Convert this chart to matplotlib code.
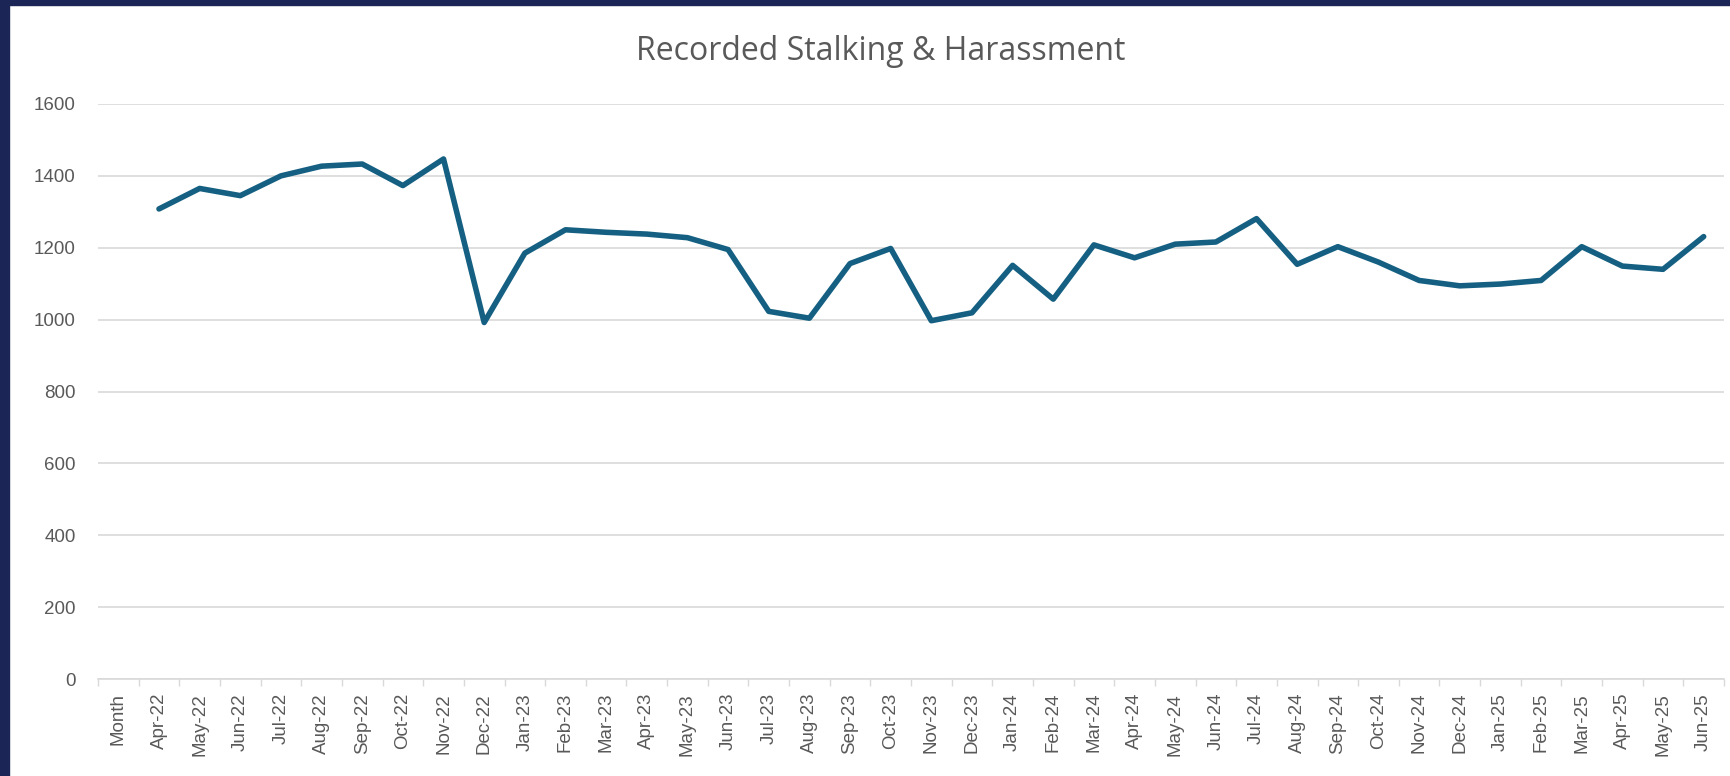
import matplotlib
matplotlib.use("Agg")
import matplotlib.pyplot as plt
import numpy as np

categories = ["Month",
              "Apr-22", "May-22", "Jun-22", "Jul-22", "Aug-22", "Sep-22", "Oct-22", "Nov-22", "Dec-22",
              "Jan-23", "Feb-23", "Mar-23", "Apr-23", "May-23", "Jun-23", "Jul-23", "Aug-23", "Sep-23",
              "Oct-23", "Nov-23", "Dec-23", "Jan-24", "Feb-24", "Mar-24", "Apr-24", "May-24", "Jun-24",
              "Jul-24", "Aug-24", "Sep-24", "Oct-24", "Nov-24", "Dec-24", "Jan-25", "Feb-25", "Mar-25",
              "Apr-25", "May-25", "Jun-25"]

values = [np.nan,
          1308, 1365, 1345, 1400, 1427, 1433, 1373, 1447, 992,
          1185, 1250, 1243, 1238, 1228, 1195, 1023, 1004, 1156,
          1198, 997, 1019, 1151, 1057, 1208, 1172, 1210, 1216,
          1281, 1154, 1203, 1160, 1109, 1094, 1099, 1109, 1203,
          1149, 1140, 1231]

y_ticks = [0, 200, 400, 600, 800, 1000, 1200, 1400, 1600]

title = "Recorded Stalking & Harassment"

W, H = 1731, 776
fig = plt.figure(figsize=(W / 100, H / 100), dpi=100)
fig.patch.set_facecolor("white")

# navy frame (left and top)
fig.add_artist(plt.Rectangle((0, 0), 9 / W, 1, transform=fig.transFigure, color="#1B2556", zorder=0))
fig.add_artist(plt.Rectangle((0, 1 - 5 / H), 1, 5 / H, transform=fig.transFigure, color="#1B2556", zorder=0))

left, right = 98 / W, 1724 / W
top, bottom = 1 - 104 / H, 1 - 679 / H
ax = fig.add_axes([left, bottom, right - left, top - bottom])
ax.set_facecolor("white")

x = np.arange(len(categories))
ax.plot(x, values, color="#156082", linewidth=4.0, solid_joinstyle="round", solid_capstyle="round", zorder=3)

ax.set_xlim(-0.5, len(categories) - 0.5)
ax.set_ylim(0, 1600)
ax.set_yticks(y_ticks)
ax.set_yticklabels([str(v) for v in y_ticks])
ax.grid(axis="y", color="#D9D9D9", linewidth=1.2, zorder=0)
ax.set_axisbelow(True)

ax.set_xticks(x)
ax.set_xticklabels(categories, rotation=90, ha="center", va="top")
ax.set_xticks(np.arange(-0.5, len(categories), 1), minor=True)
ax.tick_params(axis="x", which="major", length=0, pad=10, labelsize=13.5, labelcolor="#595959")
ax.tick_params(axis="x", which="minor", length=5, width=1, color="#D9D9D9")
ax.tick_params(axis="y", which="major", length=0, pad=16, labelsize=13.5, labelcolor="#595959")
for lab in ax.get_xticklabels() + ax.get_yticklabels():
    lab.set_fontfamily("Liberation Sans")

for s in ["top", "right", "left"]:
    ax.spines[s].set_visible(False)
ax.spines["bottom"].set_color("#D9D9D9")
ax.spines["bottom"].set_linewidth(1.2)

fig.text(881 / W, 1 - 52 / H, title, ha="center", va="center", fontsize=23,
         color="#595959", family="Open Sans")

fig.savefig("out.png", dpi=100)
